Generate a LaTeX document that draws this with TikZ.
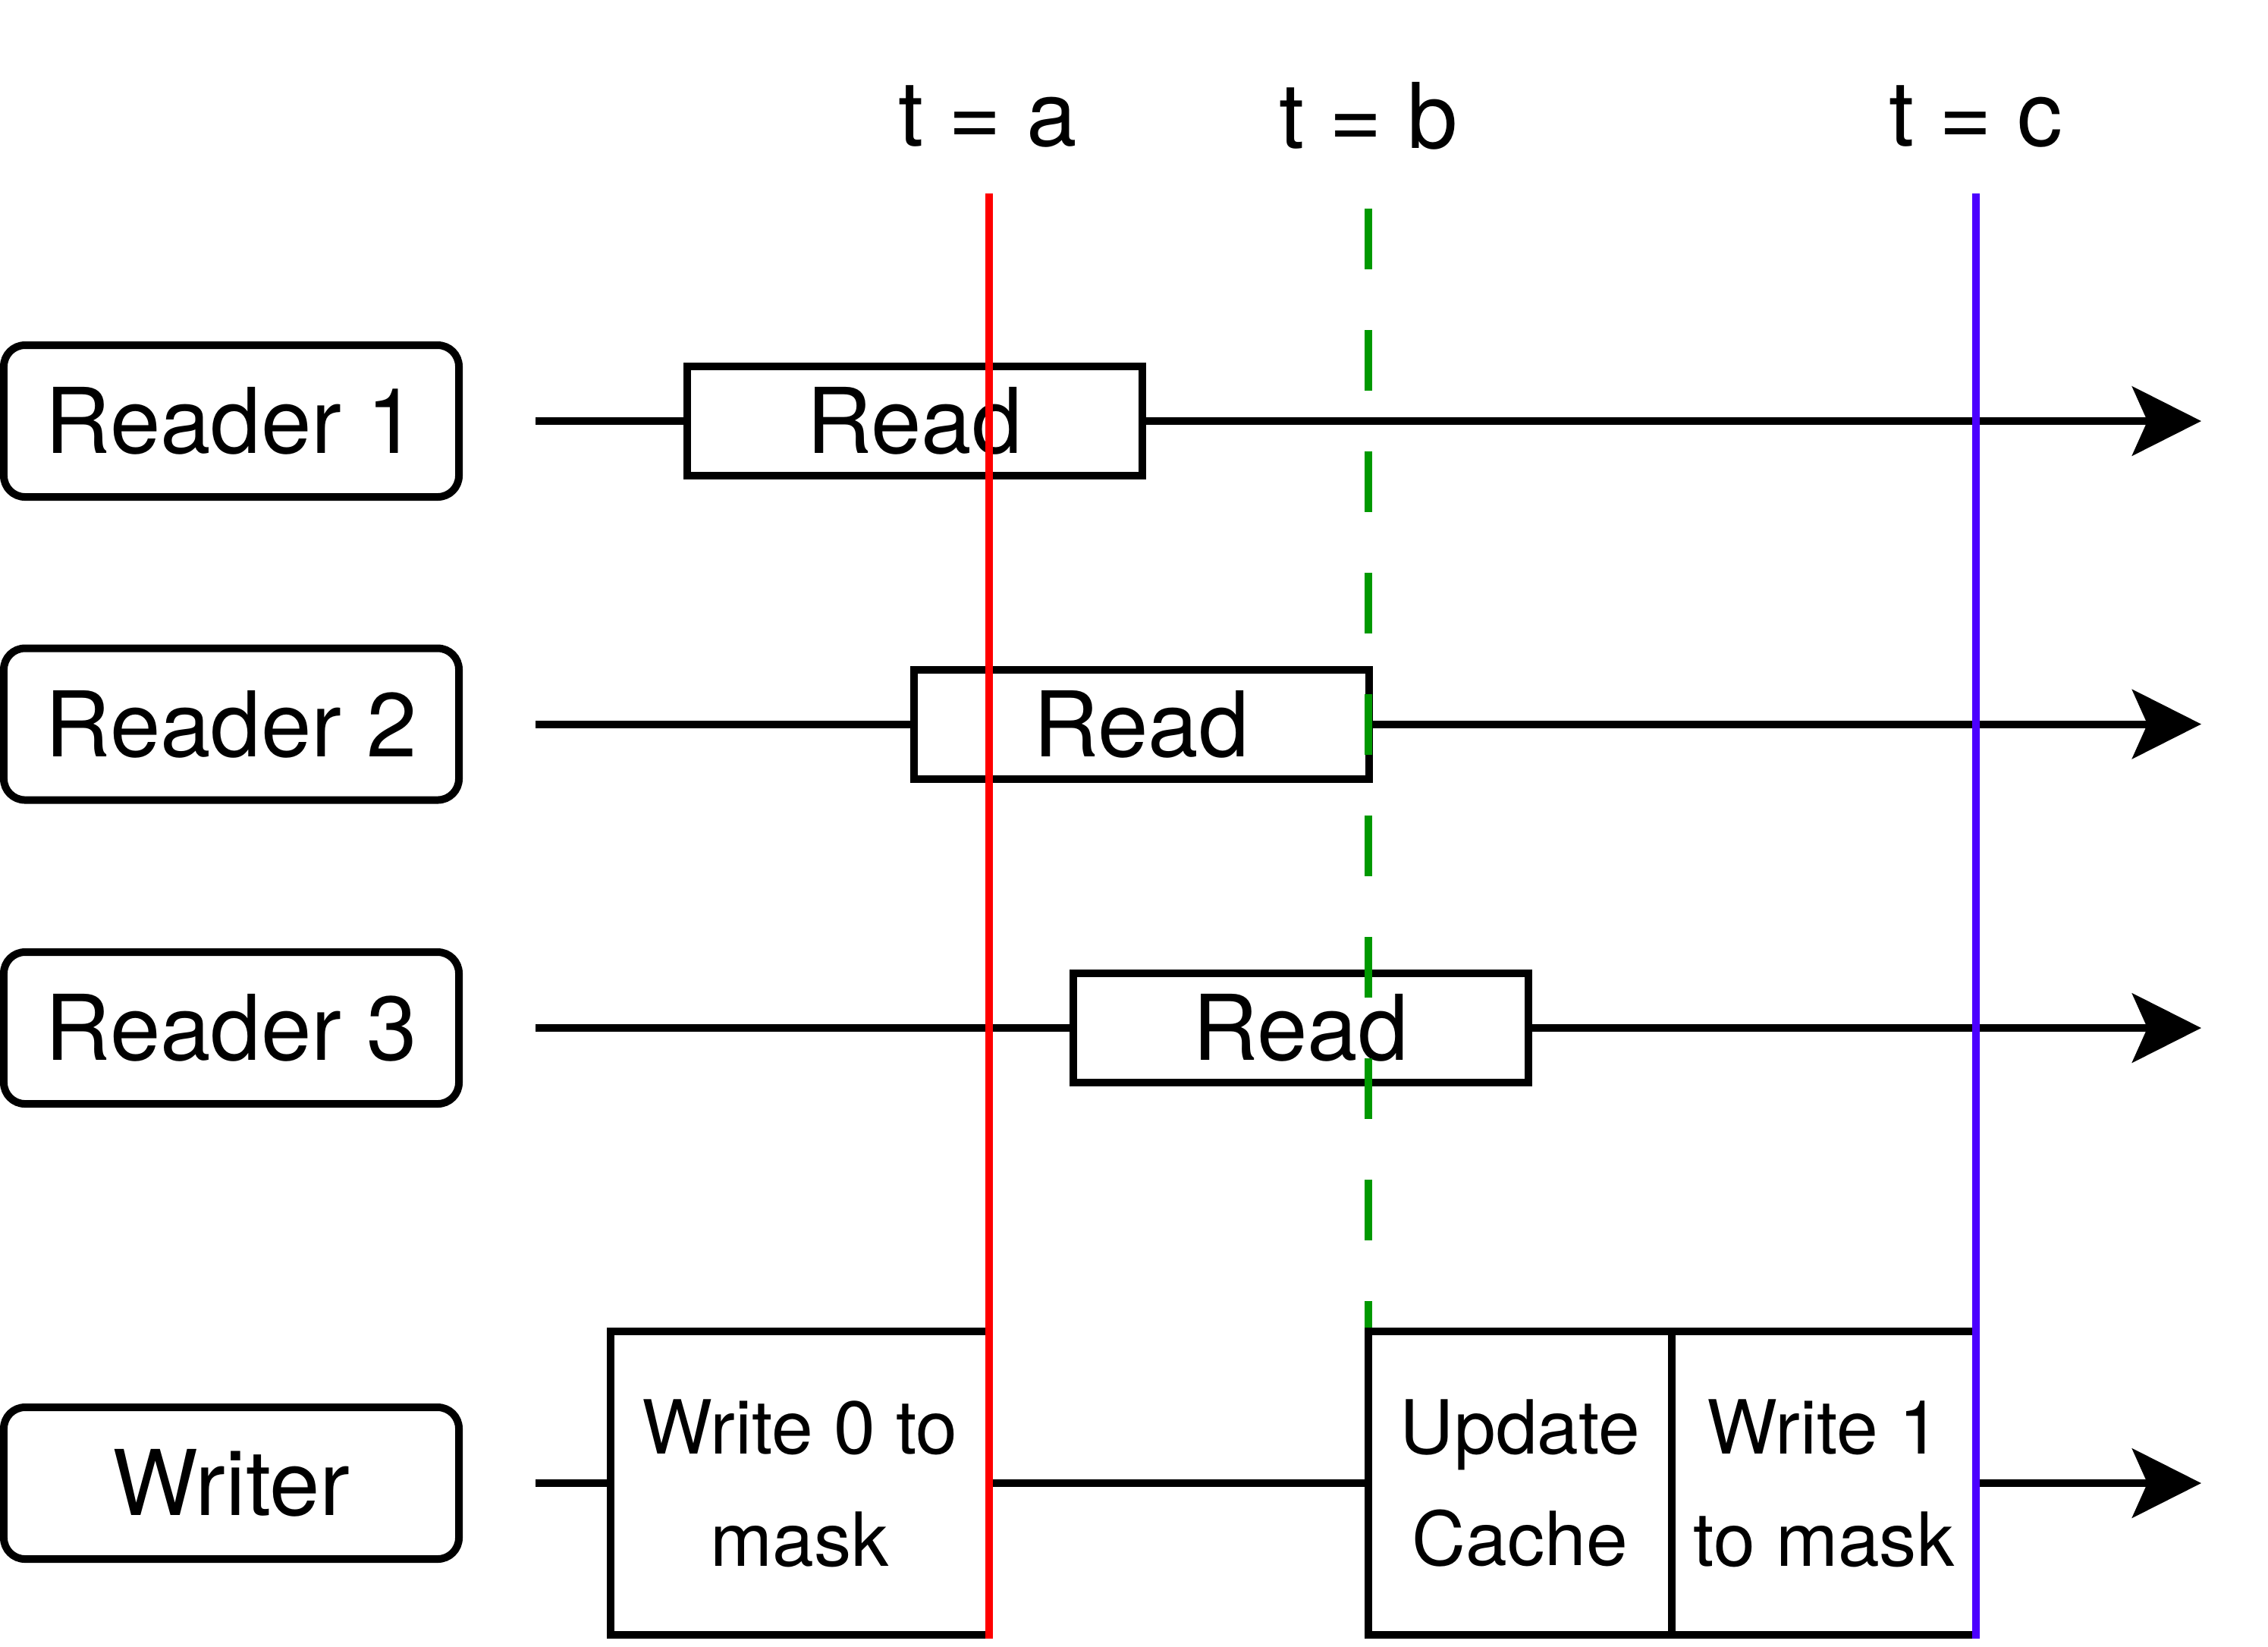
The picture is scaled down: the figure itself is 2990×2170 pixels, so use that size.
\documentclass[tikz,border=0pt]{standalone}
\usepackage{fontspec}
\setmainfont{TeX Gyre Heros}
\usetikzlibrary{arrows.meta}
\definecolor{mred}{RGB}{255,0,0}
\definecolor{mgreen}{RGB}{0,153,0}
\definecolor{mblue}{RGB}{76,0,255}

\begin{document}
\begin{tikzpicture}[x=0.05mm, y=-0.05mm, line width=0.05cm,
    thread/.style={draw, rounded corners=0.14cm, minimum width=3.0cm, minimum height=1.0cm, font=\fontsize{17}{20}\selectfont},
    readbox/.style={draw, minimum width=3.0cm, minimum height=0.72cm, inner sep=0pt, font=\fontsize{17}{20}\selectfont},
    writebox/.style={draw, minimum height=2.0cm, inner sep=0pt, align=center, font=\fontsize{14}{21}\selectfont},
    timeline/.style={-{Stealth[length=0.455cm, width=0.455cm, inset=0.1cm]}},
    tlabel/.style={font=\fontsize{17}{20}\selectfont}]
    \useasboundingbox (0,0) rectangle (2990,2170);

    % Readers
    \foreach \i/\y/\rx in {1/555/1205.5, 2/954.5/1504.5, 3/1355/1714.5} {
        \node[thread] (r\i) at (305,\y) {Reader \i};
        \coordinate (s\i) at (706,\y);
        \coordinate (e\i) at (2902,\y);
        \node[readbox] (rd\i) at (\rx,\y) {Read};
        \draw (s\i) -- (rd\i.west);
        \draw[timeline] (rd\i.east) -- (e\i);
      }

    % Writer
    \node[thread] (w) at (305,1955) {Writer};
    \coordinate (sw) at (706,1955);
    \coordinate (ew) at (2902,1955);
    \node[writebox, minimum width=2.495cm] (wr0) at (1054.5,1955) {Write 0 to\\mask};
    \node[writebox, minimum width=2.0cm] (upd) at (2004,1955) {Update\\Cache};
    \node[writebox, minimum width=2.005cm] (wr1) at (2404.5,1955) {Write 1\\to mask};
    \draw (sw) -- (wr0.west);
    \draw (wr0.east) -- (upd.west);
    \draw[timeline] (wr1.east) -- (ew);

    % Time marks
    \node[tlabel] (ta) at (1302,153) {t = a};
    \node[tlabel] (tb) at (1804,153) {t = b};
    \node[tlabel] (tc) at (2605,153) {t = c};
    \coordinate (ta0) at (1304,255);
    \coordinate (tb0) at (1804,275);
    \coordinate (tc0) at (2605,255);
    \draw[mred] (ta0) -- (ta0 |- wr0.south);
    \draw[mgreen, dash pattern=on 0.4cm off 0.4cm] (tb0) -- (tb0 |- upd.north);
    \draw[mblue] (tc0) -- (tc0 |- wr1.south);
  \end{tikzpicture}
\end{document}
